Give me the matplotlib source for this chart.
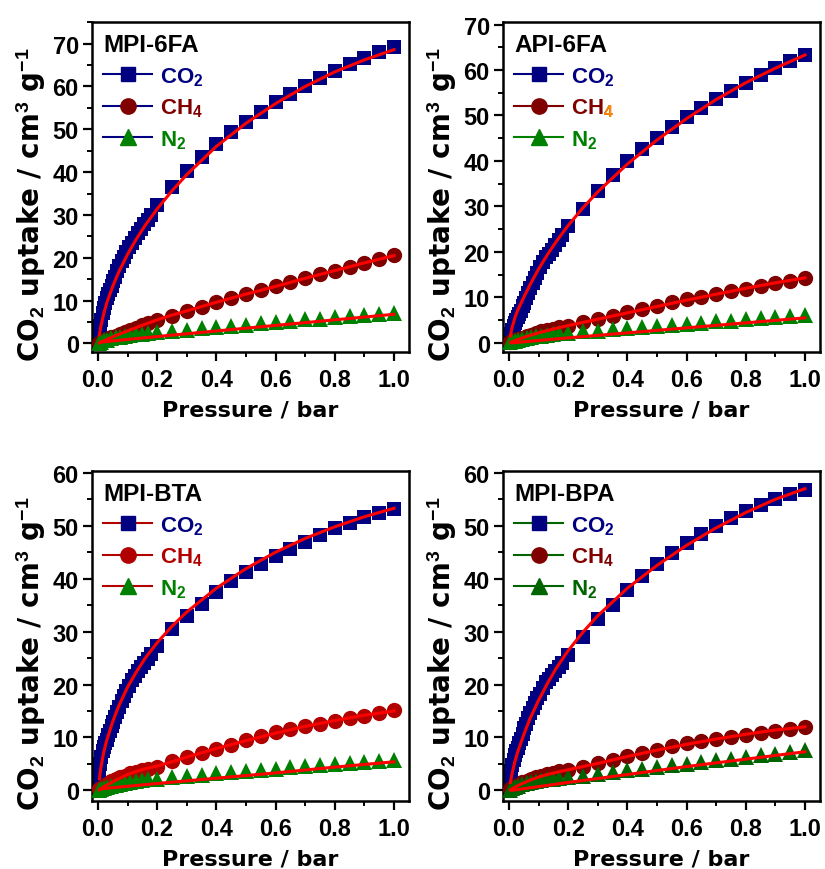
import matplotlib
matplotlib.use("Agg")
import matplotlib.pyplot as plt
from matplotlib.lines import Line2D
from matplotlib.text import Text
from matplotlib.transforms import Bbox, IdentityTransform
from matplotlib.ticker import MultipleLocator

plt.rcParams['font.family'] = ['Liberation Sans', 'DejaVu Sans']
plt.rcParams['font.weight'] = 'bold'
plt.rcParams['axes.labelweight'] = 'bold'
plt.rcParams['mathtext.fontset'] = 'custom'
plt.rcParams['mathtext.rm'] = 'Liberation Sans:bold'
plt.rcParams['mathtext.it'] = 'Liberation Sans:bold'
plt.rcParams['mathtext.bf'] = 'Liberation Sans:bold'
plt.rcParams['mathtext.default'] = 'bf'

# pressures (bar)
p_high = [0.2, 0.25, 0.3, 0.35, 0.4, 0.45, 0.5, 0.55, 0.6, 0.65, 0.7, 0.75, 0.8,
          0.85, 0.9, 0.95, 1.0]
p_co2 = [0.002, 0.005, 0.008, 0.012, 0.016, 0.02, 0.025, 0.03, 0.035, 0.04, 0.046,
         0.052, 0.058, 0.065, 0.072, 0.08, 0.088, 0.096, 0.105, 0.114, 0.124, 0.134,
         0.145, 0.156, 0.168, 0.18] + p_high
p_gas = [0.003, 0.01, 0.02, 0.03, 0.045, 0.06, 0.075, 0.09, 0.11, 0.13, 0.15, 0.17] + p_high
p_fit = [0.005, 0.01, 0.02, 0.03, 0.05, 0.07, 0.1, 0.13, 0.16, 0.2, 0.25, 0.3, 0.4,
         0.5, 0.6, 0.7, 0.8, 0.9, 1.0]
p_fit_n2 = [0.01, 0.2, 0.4, 0.6, 0.8, 1.0]

# MPI-6FA
mpi6fa_co2 = [1.0, 2.5, 4.0, 5.5, 7.0, 8.2, 9.5, 10.6, 11.5, 12.4, 13.5, 14.6, 15.6,
              16.8, 18.0, 19.2, 20.2, 21.3, 22.5, 23.5, 24.6, 25.7, 26.8, 27.8, 28.9,
              30.0, 32.3, 36.6, 40.2, 43.5, 46.5, 49.3, 51.8, 54.1, 56.3, 58.3, 60.2,
              62.0, 63.7, 65.2, 66.7, 68.0, 69.2]
mpi6fa_ch4 = [0.2, 0.4, 0.7, 1.0, 1.4, 1.8, 2.2, 2.6, 3.1, 3.7, 4.2, 4.8, 5.4, 6.5,
              7.5, 8.6, 9.7, 10.7, 11.5, 12.5, 13.5, 14.3, 15.2, 16.1, 17.0, 17.9,
              18.8, 19.7, 20.6]
mpi6fa_n2 = [0.1, 0.4, 0.7, 0.9, 1.2, 1.4, 1.6, 1.8, 2.0, 2.2, 2.3, 2.5, 2.6, 2.9,
             3.2, 3.5, 3.8, 4.1, 4.4, 4.7, 5.0, 5.3, 5.6, 5.8, 6.1, 6.4, 6.6, 6.9, 7.2]
mpi6fa_fit_co2 = [2.0, 4.0, 7.0, 9.5, 13.3, 16.6, 20.8, 24.4, 27.6, 31.4, 35.6, 39.4,
                  46.0, 51.4, 56.0, 60.0, 63.4, 66.2, 68.6]
mpi6fa_fit_ch4 = [0.1, 0.3, 0.6, 0.9, 1.5, 2.1, 2.9, 3.7, 4.5, 5.5, 6.6, 7.6, 9.6,
                  11.5, 13.3, 15.2, 17.0, 18.8, 20.5]
mpi6fa_fit_n2 = [0.3, 1.6, 2.9, 4.2, 5.5, 6.8]

# API-6FA
api6fa_co2 = [0.5, 1.3, 2.0, 2.8, 3.6, 4.3, 5.0, 5.6, 6.4, 7.1, 8.0, 8.8, 9.8, 11.0,
              12.1, 13.2, 14.3, 15.4, 16.6, 17.7, 18.8, 19.6, 20.5, 21.6, 22.7, 23.8,
              25.7, 29.4, 33.3, 36.8, 40.0, 42.6, 45.1, 47.5, 49.7, 51.7, 53.6, 55.4,
              57.1, 58.8, 60.4, 61.9, 63.3]
api6fa_ch4 = [0.1, 0.3, 0.6, 0.8, 1.1, 1.4, 1.8, 2.1, 2.5, 2.8, 3.1, 3.4, 3.8, 4.6,
              5.3, 6.0, 6.7, 7.5, 8.2, 8.9, 9.6, 10.1, 10.7, 11.3, 11.9, 12.5, 13.1,
              13.7, 14.3]
api6fa_n2 = [0.1, 0.3, 0.5, 0.7, 0.9, 1.1, 1.3, 1.4, 1.6, 1.8, 1.9, 2.1, 2.2, 2.5,
             2.7, 3.0, 3.2, 3.4, 3.7, 4.0, 4.2, 4.4, 4.7, 4.9, 5.2, 5.4, 5.7, 6.0, 6.2]
api6fa_fit_co2 = [1.5, 3.2, 5.5, 7.2, 10.0, 12.6, 16.2, 19.4, 22.3, 25.8, 29.7, 33.2,
                  39.3, 44.6, 49.3, 53.5, 57.2, 60.4, 63.3]
api6fa_fit_ch4 = [0.1, 0.2, 0.5, 0.7, 1.2, 1.6, 2.2, 2.7, 3.2, 3.8, 4.5, 5.2, 6.6,
                  8.0, 9.4, 10.7, 12.0, 13.2, 14.3]
api6fa_fit_n2 = [0.0, 1.1, 2.2, 3.3, 4.4, 5.5]

# MPI-BTA
mpibta_co2 = [1.5, 3.5, 5.0, 6.3, 7.4, 8.2, 9.0, 9.6, 10.4, 11.2, 12.1, 13.0, 13.9,
              14.9, 15.8, 16.9, 17.8, 18.7, 19.8, 20.8, 21.7, 22.5, 23.3, 24.1, 24.9,
              25.7, 27.2, 30.4, 32.9, 35.3, 37.5, 39.5, 41.2, 42.8, 44.3, 45.7, 47.0,
              48.3, 49.5, 50.6, 51.6, 52.5, 53.2]
mpibta_ch4 = [0.2, 0.5, 0.9, 1.3, 1.7, 2.1, 2.5, 2.8, 3.2, 3.5, 3.8, 4.1, 4.4, 5.5,
              6.3, 7.1, 7.9, 8.6, 9.6, 10.3, 11.1, 11.6, 12.2, 12.6, 13.1, 13.6, 14.1,
              14.6, 15.1]
mpibta_n2 = [0.1, 0.3, 0.5, 0.7, 0.9, 1.1, 1.3, 1.4, 1.6, 1.8, 1.9, 2.1, 2.2, 2.5,
             2.75, 3.0, 3.2, 3.5, 3.7, 3.9, 4.1, 4.35, 4.55, 4.75, 4.95, 5.15, 5.35,
             5.55, 5.75]
mpibta_fit_co2 = [2.2, 4.3, 7.3, 9.5, 13.0, 15.9, 19.5, 22.4, 25.0, 27.9, 31.0, 33.7,
                  38.2, 41.9, 45.0, 47.6, 49.8, 51.7, 53.3]
mpibta_fit_ch4 = [0.1, 0.3, 0.7, 1.0, 1.6, 2.2, 3.0, 3.6, 4.1, 4.6, 5.4, 6.3, 7.9,
                  9.4, 10.8, 12.1, 13.2, 14.2, 15.0]
mpibta_fit_n2 = [0.3, 1.3, 2.3, 3.3, 4.4, 5.4]

# MPI-BPA
mpibpa_co2 = [1.0, 2.5, 3.7, 4.8, 5.8, 6.6, 7.4, 8.1, 8.9, 9.7, 10.7, 11.7, 12.6,
              13.6, 14.6, 15.6, 16.6, 17.4, 18.3, 19.3, 20.4, 21.1, 21.8, 22.6, 23.3,
              24.0, 25.5, 29.0, 32.3, 35.1, 37.9, 40.5, 42.8, 44.9, 46.8, 48.5, 50.0,
              51.5, 52.8, 54.0, 55.0, 56.0, 56.8]
mpibpa_ch4 = [0.2, 0.4, 0.8, 1.1, 1.5, 1.8, 2.2, 2.5, 2.8, 3.1, 3.3, 3.6, 3.8, 4.4,
              5.2, 5.8, 6.5, 7.0, 7.7, 8.3, 8.9, 9.3, 9.7, 10.1, 10.4, 10.8, 11.2,
              11.6, 12.0]
mpibpa_n2 = [0.1, 0.4, 0.7, 0.9, 1.2, 1.4, 1.6, 1.7, 1.9, 2.1, 2.2, 2.4, 2.5, 2.8,
             3.1, 3.5, 3.8, 4.1, 4.4, 4.75, 5.05, 5.4, 5.7, 6.0, 6.3, 6.65, 6.95, 7.3,
             7.6]
mpibpa_fit_co2 = [1.5, 3.0, 5.4, 7.3, 10.5, 13.4, 17.0, 20.2, 23.1, 26.4, 29.9, 33.0,
                  38.2, 42.5, 46.3, 49.6, 52.5, 55.0, 57.0]
mpibpa_fit_ch4 = [0.1, 0.3, 0.6, 0.9, 1.4, 1.9, 2.5, 3.0, 3.4, 3.9, 4.5, 5.1, 6.4,
                  7.6, 8.7, 9.7, 10.6, 11.4, 12.0]
mpibpa_fit_n2 = [0.0, 1.5, 3.0, 4.5, 5.9, 7.3]

NAVY = '#000080'
MAROON = '#800000'
GREEN = '#008000'
RED = '#b00000'
DKGREEN = '#006400'
ORANGE = '#ff8c00'

fig = plt.figure(figsize=(8.25, 8.7), dpi=100)
w, h = 0.384, 0.379
axes = [fig.add_axes([0.1115, 0.5943, w, h]),
        fig.add_axes([0.6097, 0.5943, w, h]),
        fig.add_axes([0.1115, 0.0782, w, h]),
        fig.add_axes([0.6097, 0.0782, w, h])]

panels = [
    ("MPI-6FA", mpi6fa_co2, mpi6fa_ch4, mpi6fa_n2, mpi6fa_fit_co2, mpi6fa_fit_ch4,
     mpi6fa_fit_n2, MAROON, GREEN, [NAVY, NAVY, NAVY], 75),
    ("API-6FA", api6fa_co2, api6fa_ch4, api6fa_n2, api6fa_fit_co2, api6fa_fit_ch4,
     api6fa_fit_n2, MAROON, GREEN, [NAVY, MAROON, GREEN], 70.5),
    ("MPI-BTA", mpibta_co2, mpibta_ch4, mpibta_n2, mpibta_fit_co2, mpibta_fit_ch4,
     mpibta_fit_n2, RED, GREEN, [RED, RED, RED], 60.3),
    ("MPI-BPA", mpibpa_co2, mpibpa_ch4, mpibpa_n2, mpibpa_fit_co2, mpibpa_fit_ch4,
     mpibpa_fit_n2, MAROON, DKGREEN, [DKGREEN, DKGREEN, DKGREEN], 60.3),
]

label_font = {'family': 'DejaVu Sans', 'weight': 'bold'}
legends = []

for ax, (name, co2, ch4, n2, fco2, fch4, fn2, c_ch4, c_n2, leg_lines, ytop) in zip(axes, panels):
    ax.plot(p_co2, co2, 's', color=NAVY, ms=10.5, mew=0, zorder=2)
    ax.plot(p_gas, ch4, 'o', color=c_ch4, ms=11, mew=0, zorder=3)
    ax.plot(p_gas, n2, '^', color=c_n2, ms=11, mew=0, zorder=4)
    ax.plot(p_fit, fco2, '-', color='#ff0000', lw=2.2, zorder=5)
    ax.plot(p_fit, fch4, '-', color='#ff0000', lw=2.2, zorder=5)
    ax.plot(p_fit_n2, fn2, '-', color='#ff0000', lw=2.2, zorder=5)

    ax.set_xlim(-0.02, 1.05)
    ax.set_ylim(-2, ytop)
    ax.xaxis.set_major_locator(MultipleLocator(0.2))
    ax.xaxis.set_minor_locator(MultipleLocator(0.1))
    ax.yaxis.set_major_locator(MultipleLocator(10))
    ax.yaxis.set_minor_locator(MultipleLocator(5))
    ax.tick_params(which='major', direction='out', length=6.5, width=1.6,
                   labelsize=17)
    ax.tick_params(axis='x', which='major', pad=5)
    ax.tick_params(axis='y', which='major', pad=3)
    ax.tick_params(which='minor', direction='out', length=3.5, width=1.4)
    for sp in ax.spines.values():
        sp.set_linewidth(1.8)
    ax.set_xlabel("Pressure / bar", fontsize=16, labelpad=6, fontdict=label_font)
    ax.set_ylabel("CO$_2$ uptake / cm$^3$ g$^{-1}$", fontsize=20,
                  fontdict=label_font)
    ax.yaxis.set_label_coords(-0.14, 0.45)

    handles = [
        Line2D([], [], color=leg_lines[0], lw=1.5, marker='s', ms=10,
               mfc=NAVY, mec=NAVY),
        Line2D([], [], color=leg_lines[1], lw=1.5, marker='o', ms=11,
               mfc=c_ch4, mec=c_ch4),
        Line2D([], [], color=leg_lines[2], lw=1.5, marker='^', ms=11,
               mfc=c_n2, mec=c_n2),
    ]
    leg = ax.legend(handles, ["CO$_2$", "CH$_4$", "N$_2$"], title=name,
                    loc='upper left', bbox_to_anchor=(0, 1), borderaxespad=0,
                    borderpad=0.5, frameon=False, fontsize=16,
                    title_fontproperties={'size': 17.5, 'weight': 'bold'},
                    handlelength=2.2, handletextpad=0.35, labelspacing=0.4,
                    alignment='left')
    for txt, col in zip(leg.get_texts(), [NAVY, c_ch4, c_n2]):
        txt.set_color(col)
    legends.append(leg)

# API-6FA: the subscript of CH4 is orange in the legend
fig.canvas.draw()
renderer = fig.canvas.get_renderer()
t = legends[1].get_texts()[1]
bb = t.get_window_extent(renderer)
probe = fig.text(0, 0, "CH", fontsize=t.get_fontsize(), fontweight='bold')
w_ch = probe.get_window_extent(renderer).width
probe.remove()
x_disp, y_disp = t.get_transform().transform(t.get_position())
sub = Text(x_disp, y_disp, t.get_text(), color=ORANGE,
           fontproperties=t.get_fontproperties(),
           ha=t.get_horizontalalignment(), va=t.get_verticalalignment(),
           transform=IdentityTransform())
sub.set_clip_box(Bbox.from_extents(bb.x0 + w_ch + 0.5, bb.y0 - 4, bb.x1 + 4, bb.y1 + 4))
sub.set_clip_on(True)
fig.add_artist(sub)

fig.savefig("out.png", dpi=100)
